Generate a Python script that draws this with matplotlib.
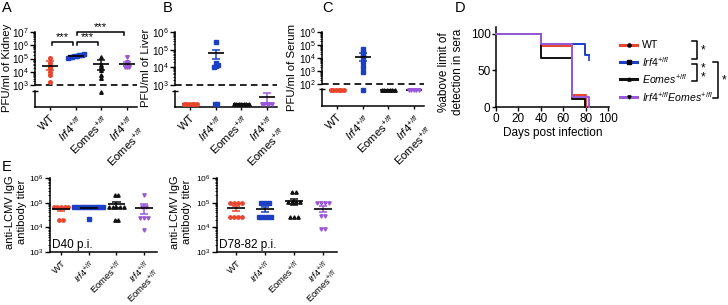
import numpy as np
import matplotlib
matplotlib.use('Agg')
import matplotlib.pyplot as plt
from matplotlib.ticker import LogLocator, NullFormatter, LogFormatterMathtext

plt.rcParams['font.family'] = ['Liberation Sans', 'DejaVu Sans']
plt.rcParams['mathtext.fontset'] = 'custom'
plt.rcParams['mathtext.rm'] = 'Liberation Sans'
plt.rcParams['mathtext.it'] = 'Liberation Sans:italic'
plt.rcParams['axes.linewidth'] = 1.1

# groups
colors = ['#e8452c', '#1d3fc4', '#111111', '#9a5ad8']
markers = ['o', 's', '^', 'v']
lab_wt = 'WT'
lab_irf4 = r'$\mathit{Irf4}^{\mathit{+/fl}}$'
lab_eomes = r'Eomes$^{\mathit{+/fl}}$'
lab_ie = lab_irf4 + '\n' + lab_eomes
tick_labels = [lab_wt, lab_irf4, lab_eomes, lab_ie]

# A: PFU/ml kidney (values below 1e3 = below detection)
kidney_limit = 1e3
kidney_pts = [[1.1e5, 4.6e4, 2.3e4, 1.9e4, 9.5e3, 5.6e3, 1.7e3],
              [2.2e5, 2.0e5, 1.8e5, 1.6e5, 1.55e5, 1.4e5, 1.25e5, 1.1e5],
              [1.3e5, 3.2e4, 2.3e4, 1.9e4, 1.35e4, 5.6e3, 3.4e3, 950],
              [1.3e5, 5.5e4, 4.0e4, 3.2e4, 2.3e4, 2.3e4, 2.3e4]]
kidney_mean = [2.7e4, 1.55e5, 3.6e4, 4.0e4]
kidney_lo = [1.35e4, 1.2e5, 1.35e4, 2.7e4]
kidney_hi = [6.5e4, 2.0e5, 7.8e4, 5.5e4]

# B: PFU/ml liver
liver_limit = 1e3
liver_pts = [[200] * 6,
             [2.7e5, 1.75e4, 1.35e4, 1.2e4, 1.05e4, 200, 200],
             [200] * 7,
             [200] * 5]
liver_mean = [200, 6.5e4, 200, 650]
liver_lo = [200, 3.0e4, 200, 250]
liver_hi = [200, 9.5e4, 200, 900]

# C: PFU/ml serum
serum_limit = 1e2
serum_pts = [[95] * 6,
             [5.2e4, 3.1e4, 2.2e4, 1.1e4, 4.6e3, 1.9e3, 800, 95],
             [95] * 6,
             [95] * 5]
serum_mean = [95, 1.3e4, 95, 95]
serum_lo = [95, 5.5e3, 95, 95]
serum_hi = [95, 2.6e4, 95, 95]

# D: % above limit of detection in sera
surv_t = [[0, 40, 68, 80], [0, 40, 79, 83], [0, 40, 68, 79], [0, 40, 68, 83]]
surv_s = [[100, 83, 17, 0], [100, 86, 71, 71], [100, 67, 11, 0], [100, 86, 14, 0]]
legend_labels = ['WT', r'$\mathit{Irf4}^{\mathit{+/fl}}$', r'$\mathit{Eomes}^{\mathit{+/fl}}$',
                 r'$\mathit{Irf4}^{\mathit{+/fl}}\mathit{Eomes}^{\mathit{+/fl}}$']

# E: anti-LCMV IgG titers
d40 = [[6.6e4] * 5 + [2.0e4] * 2,
       [6.6e4] * 9 + [2.2e4],
       [2.0e5] * 2 + [6.6e4] * 5 + [2.0e4] * 2,
       [2.1e5, 6.6e4, 6.6e4, 2.4e4, 2.4e4, 2.4e4, 8e3]]
d78 = [[9.5e4] * 4 + [2.6e4] * 4,
       [9.5e4] * 3 + [2.6e4] * 4,
       [2.7e5] * 2 + [1.05e5] * 4 + [2.6e4] * 3,
       [9.5e4] * 4 + [2.9e4] * 2 + [8.5e3] * 2]

W, H = 728, 305
fig = plt.figure(figsize=(W / 100, H / 100), dpi=100)
FS = 8.2
TFS = 7.2


def box(x0, y0, x1, y1):
    return fig.add_axes([x0 / W, 1 - y1 / H, (x1 - x0) / W, (y1 - y0) / H])


def swarm(v, thr, step):
    v = np.asarray(v, float)
    off = np.zeros(len(v))
    clusters = []
    for idx in np.argsort(v):
        if clusters and v[idx] - v[clusters[-1][-1]] < thr:
            clusters[-1].append(idx)
        else:
            clusters.append([idx])
    for c in clusters:
        off[c] = (np.arange(len(c)) - (len(c) - 1) / 2) * step
    return off


def mean_bar(ax, i, m, lo, hi, c):
    ax.vlines(i, lo, hi, color=c, lw=1.1, zorder=4, clip_on=False)
    ax.hlines([lo, hi], i - 0.15, i + 0.15, color=c, lw=1.1, zorder=4, clip_on=False)
    ax.hlines(m, i - 0.32, i + 0.32, color='k', lw=1.2, zorder=5, clip_on=False)


def log_ticks(ax, size):
    ax.yaxis.set_major_locator(LogLocator(base=10, numticks=10))
    ax.yaxis.set_minor_locator(LogLocator(base=10, subs=np.arange(2, 10), numticks=10))
    ax.yaxis.set_minor_formatter(NullFormatter())
    ax.yaxis.set_major_formatter(LogFormatterMathtext())
    ax.tick_params(axis='y', which='major', length=3.5, width=1.0, labelsize=size, pad=1)
    ax.tick_params(axis='y', which='minor', length=1.8, width=0.6)


def pfu_panel(x0, x1, top, cut, low_top, bottom, pts, means, los, his, limit, ymax):
    up = box(x0, top, x1, cut)
    low = box(x0, low_top, x1, bottom)
    for ax in (up, low):
        ax.set_xlim(-0.6, 3.4)
        ax.spines['top'].set_visible(False)
        ax.spines['right'].set_visible(False)
    up.spines['bottom'].set_visible(False)
    up.set_yscale('log')
    up.set_ylim(limit, ymax)
    log_ticks(up, TFS)
    up.set_xticks([])
    up.axhline(limit, color='k', lw=1.2, ls=(0, (4, 2.5)), clip_on=False, zorder=2)
    low.set_ylim(0, limit)
    low.set_yticks([limit])
    low.set_yticklabels([''])
    low.tick_params(axis='y', direction='inout', length=5, width=1.0)
    low.set_xticks(range(4))
    low.set_xticklabels(tick_labels, rotation=45, ha='right', rotation_mode='anchor', fontsize=FS)
    low.tick_params(axis='x', length=2.5, width=1.0, pad=2)
    for i in range(4):
        v = np.asarray(pts[i], float)
        hv = v[v >= limit]
        lv = v[v < limit]
        if len(hv):
            up.plot(i + swarm(np.log10(hv), 0.06, 0.09), hv, ls='none', marker=markers[i],
                    ms=2.6, mfc=colors[i], mec=colors[i], zorder=3, clip_on=False)
        if len(lv):
            low.plot(i + swarm(lv / limit, 0.05, 0.1), lv, ls='none', marker=markers[i],
                     ms=2.5, mfc=colors[i], mec=colors[i], zorder=6, clip_on=False)
        ax = up if means[i] >= limit else low
        mean_bar(ax, i, means[i], los[i], his[i], colors[i])
    return up, low


upA, lowA = pfu_panel(35, 137, 32, 85, 91, 107, kidney_pts, kidney_mean, kidney_lo, kidney_hi,
                      kidney_limit, 1e7)
fig.text(7 / W, 1 - 68 / H, 'PFU/ml of Kidney', rotation=90, ha='center', va='center', fontsize=FS)

# significance brackets in A
for (i, j, h) in [(0, 1, 10 ** 6.25), (1, 2, 10 ** 6.25), (1, 3, 10 ** 7.0)]:
    xa, xb = i + 0.05, j - 0.12
    upA.plot([xa, xa, xb, xb], [h / 1.6, h, h, h / 1.6], color='k', lw=1.1, clip_on=False)
    upA.text((xa + xb) / 2, h * 1.05, '***', ha='center', va='bottom', fontsize=FS, clip_on=False)

upB, lowB = pfu_panel(175, 277, 32, 85, 91, 107, liver_pts, liver_mean, liver_lo, liver_hi,
                      liver_limit, 1e6)
fig.text(146 / W, 1 - 68 / H, 'PFU/ml of Liver', rotation=90, ha='center', va='center', fontsize=FS)

upC, lowC = pfu_panel(322, 424, 32, 84, 89, 106, serum_pts, serum_mean, serum_lo, serum_hi,
                      serum_limit, 1e6)
fig.text(292 / W, 1 - 67 / H, 'PFU/ml of Serum', rotation=90, ha='center', va='center', fontsize=FS)

# D survival-type curves
axD = box(496, 27, 609, 107)
order = [0, 2, 3, 1]
for k in order:
    axD.step(surv_t[k], surv_s[k], where='post', color=colors[k], lw=1.4, zorder=3 + k, clip_on=False)
axD.plot(surv_t[1][-1], surv_s[1][-1], marker=3, ms=4, mew=1.2, color=colors[1], clip_on=False)
axD.set_xlim(0, 100.5)
axD.set_ylim(0, 109)
axD.set_xticks(range(0, 101, 20))
axD.set_yticks([0, 50, 100])
axD.tick_params(labelsize=8.5, length=3, width=1.0, pad=1)
axD.spines['top'].set_visible(False)
axD.spines['right'].set_visible(False)
axD.set_xlabel('Days post infection', fontsize=8.5, labelpad=2)
fig.text(451 / W, 1 - 72 / H, '%above limit of\ndetection in sera', rotation=90, ha='center',
         va='center', fontsize=8.5, linespacing=1.15)


def titer_panel(x0, x1, pts, xl, note):
    ax = box(x0, 178, x1, 252)
    ax.set_yscale('log')
    ax.set_ylim(1e3, 1e6)
    ax.set_xlim(*xl)
    log_ticks(ax, 6)
    for i in range(4):
        v = np.asarray(pts[i], float)
        ax.plot(i + swarm(np.log10(v), 0.08, 0.13), v, ls='none', marker=markers[i], ms=2.4,
                mfc=colors[i], mec=colors[i], zorder=3)
        m = v.mean()
        se = v.std(ddof=1) / np.sqrt(len(v))
        mean_bar(ax, i, m, m - se, m + se, colors[i])
    ax.set_xticks(range(4))
    ax.set_xticklabels(tick_labels, rotation=45, ha='right', rotation_mode='anchor', fontsize=6.8,
                       linespacing=0.95)
    ax.tick_params(axis='x', length=2.5, width=1.0, pad=2)
    ax.spines['top'].set_visible(False)
    ax.spines['right'].set_visible(False)
    ax.text(0.02, 0.02, note, transform=ax.transAxes, fontsize=8.5, ha='left', va='bottom')
    return ax


titer_panel(50, 157, d40, (-0.4, 3.47), 'D40 p.i.')
titer_panel(217, 337, d78, (-0.66, 3.48), 'D78-82 p.i.')
fig.text(16 / W, 1 - 212 / H, 'anti-LCMV IgG\nantibody titer', rotation=90, ha='center',
         va='center', fontsize=8, linespacing=1.15)
fig.text(181 / W, 1 - 212 / H, 'anti-LCMV IgG\nantibody titer', rotation=90, ha='center',
         va='center', fontsize=8, linespacing=1.15)

# overlay in pixel coordinates for panel letters, D legend and brackets
ov = fig.add_axes([0, 0, 1, 1])
ov.set_xlim(0, W)
ov.set_ylim(H, 0)
ov.axis('off')
for letter, x, y in [('A', 2, 1), ('B', 163, 1), ('C', 322, 1), ('D', 455, 1), ('E', 2, 160)]:
    ov.text(x, y, letter, fontsize=10.5, ha='left', va='top')

leg_y = [45, 62, 79, 97]
for k in range(4):
    ov.plot([620, 637], [leg_y[k], leg_y[k]], color=colors[k], lw=2.2)
    ov.plot(628.5, leg_y[k], marker=markers[k], ms=2.3, color='k')
    ov.text(642, leg_y[k], legend_labels[k], fontsize=7.6, va='center', ha='left')
for (ya, yb, x, star_y, s) in [(41, 59, 697, 50, '*'), (64, 81, 697, 73, '*\n*'), (62, 98, 718, 80, '*')]:
    ov.plot([x - 5, x, x, x - 5], [ya, ya, yb, yb], color='k', lw=1.1)
    ov.text(x + 4, star_y, s, fontsize=8.5, ha='left', va='center', linespacing=0.7)

fig.savefig('out.png', dpi=100)
